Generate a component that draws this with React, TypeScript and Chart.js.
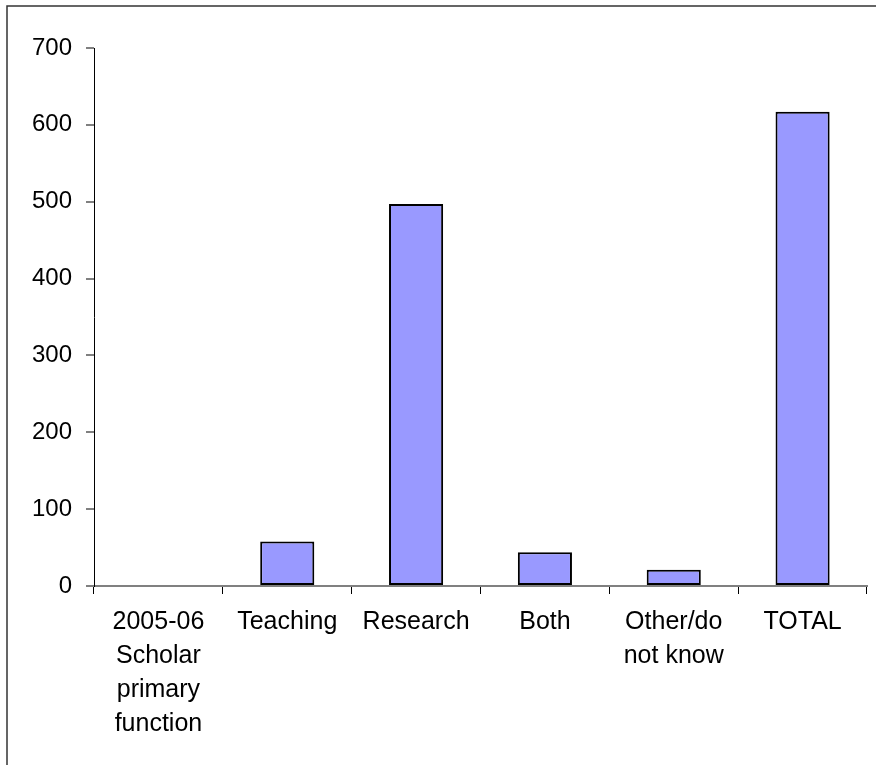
import React, { useEffect, useRef } from "react";
import { Chart, registerables } from "chart.js";

Chart.register(...registerables);

const categories: string[][] = [
  ["2005-06", "Scholar", "primary", "function"],
  ["Teaching"],
  ["Research"],
  ["Both"],
  ["Other/do", "not know"],
  ["TOTAL"],
];
const values: (number | null)[] = [null, 58, 497, 44, 21, 617];
const yMin = 0;
const yMax = 700;
const yStep = 100;

const FONT = '"Liberation Sans", Arial, Helvetica, sans-serif';

const framePlugin = {
  id: "frame",
  beforeDraw(chart: any) {
    const ctx = chart.ctx;
    ctx.save();
    ctx.fillStyle = "#ffffff";
    ctx.fillRect(0, 0, chart.width, chart.height);
    ctx.strokeStyle = "#333333";
    ctx.lineWidth = 1.5;
    ctx.strokeRect(7, 6, 2000, 2000);
    ctx.restore();
  },
};

export default function App() {
  const ref = useRef<HTMLCanvasElement | null>(null);
  useEffect(() => {
    if (!ref.current) return;
    const chart = new Chart(ref.current, {
      type: "bar",
      data: {
        labels: categories as any,
        datasets: [
          {
            data: values as any,
            backgroundColor: "#9999FF",
            borderColor: "#000000",
            borderWidth: 2,
            borderSkipped: false,
            categoryPercentage: 1,
            barPercentage: 0.42,
          },
        ],
      },
      options: {
        animation: false,
        responsive: false,
        maintainAspectRatio: false,
        devicePixelRatio: 1,
        layout: { padding: { left: 0, right: 9, top: 48, bottom: 0 } },
        plugins: {
          legend: { display: false },
          tooltip: { enabled: false },
          title: { display: false },
        },
        scales: {
          x: {
            offset: true,
            grid: {
              display: true,
              offset: true,
              drawOnChartArea: false,
              drawTicks: true,
              tickLength: 8,
              color: "#000000",
              lineWidth: 1,
            },
            border: { display: true, color: "#808080", width: 2 },
            ticks: {
              color: "#000000",
              font: { family: FONT, size: 25, lineHeight: 1.36 },
              padding: 11,
              maxRotation: 0,
              minRotation: 0,
              autoSkip: false,
            },
            afterFit(scale: any) {
              scale.height = 179;
            },
          },
          y: {
            min: yMin,
            max: yMax,
            grid: {
              display: true,
              drawOnChartArea: false,
              drawTicks: true,
              tickLength: 8,
              color: "#808080",
              lineWidth: 2,
            },
            border: { display: true, color: "#000000", width: 1 },
            ticks: {
              stepSize: yStep,
              color: "#000000",
              font: { family: FONT, size: 24 },
              padding: 14,
            },
            afterFit(scale: any) {
              scale.width = 94;
            },
          },
        },
      },
      plugins: [framePlugin],
    });
    return () => chart.destroy();
  }, []);
  return (
    <div style={{ position: "absolute", left: 0, top: 0, width: 876, height: 765 }}>
      <canvas ref={ref} width={876} height={765} style={{ display: "block" }} />
    </div>
  );
}
